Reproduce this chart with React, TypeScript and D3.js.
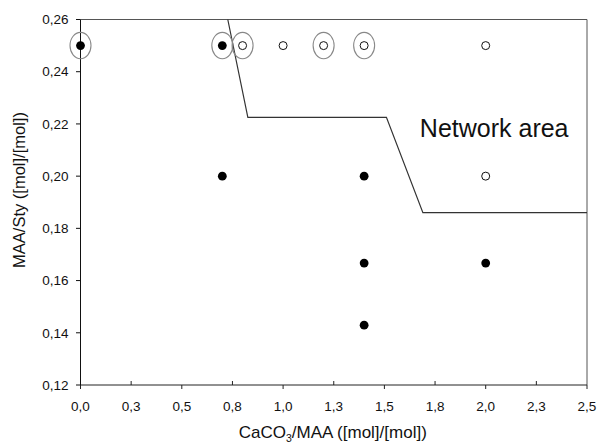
import { useEffect, useRef } from 'react';
import * as d3 from 'd3';

// ── data ────────────────────────────────────────────────────────────────
const filledX = [0.0, 0.7, 0.7, 1.4, 1.4, 1.4, 2.0];
const filledY = [0.25, 0.25, 0.2, 0.2, 0.1667, 0.1429, 0.1667];

const openX = [0.8, 1.0, 1.2, 1.4, 2.0, 2.0];
const openY = [0.25, 0.25, 0.25, 0.25, 0.25, 0.2];

// points highlighted with an outer ellipse
const ringX = [0.0, 0.7, 0.8, 1.2, 1.4];
const ringY = [0.25, 0.25, 0.25, 0.25, 0.25];

// boundary of the network area
const boundaryX = [0.727, 0.826, 1.51, 1.69, 2.5];
const boundaryY = [0.26, 0.2225, 0.2225, 0.186, 0.186];

const xTickValues = [0, 0.25, 0.5, 0.75, 1.0, 1.25, 1.5, 1.75, 2.0, 2.25, 2.5];
const xTickLabels = ['0,0', '0,3', '0,5', '0,8', '1,0', '1,3', '1,5', '1,8', '2,0', '2,3', '2,5'];
const yTickValues = [0.12, 0.14, 0.16, 0.18, 0.2, 0.22, 0.24, 0.26];
const yTickLabels = ['0,12', '0,14', '0,16', '0,18', '0,20', '0,22', '0,24', '0,26'];

const W = 598, H = 444;
const margin = { top: 19.5, right: 11, bottom: 59, left: 80.5 };
const FONT = 'Arial, "Liberation Sans", sans-serif';

export default function App() {
  const svgRef = useRef<SVGSVGElement | null>(null);

  useEffect(() => {
    if (!svgRef.current) return;
    const svg = d3.select(svgRef.current);
    svg.selectAll('*').remove();

    const innerW = W - margin.left - margin.right;
    const innerH = H - margin.top - margin.bottom;
    const x = d3.scaleLinear().domain([0, 2.5]).range([0, innerW]);
    const y = d3.scaleLinear().domain([0.12, 0.26]).range([innerH, 0]);

    const g = svg.append('g').attr('transform', `translate(${margin.left},${margin.top})`);

    // frame: top + right in gray
    g.append('path')
      .attr('d', `M0,0H${innerW}V${innerH}`)
      .attr('fill', 'none').attr('stroke', '#555').attr('stroke-width', 1);

    // x axis: labelled every 0.25, majors out, minors in
    const xa = g.append('g').attr('transform', `translate(0,${innerH})`);
    xa.append('line').attr('x1', 0).attr('x2', innerW).attr('stroke', '#222');
    xTickValues.forEach((v, i) => {
      const major = i % 2 === 0;
      xa.append('line')
        .attr('x1', x(v)).attr('x2', x(v))
        .attr('y1', 0).attr('y2', major ? 4 : -4)
        .attr('stroke', '#222');
      xa.append('text')
        .attr('x', x(v)).attr('y', 25.5)
        .attr('text-anchor', 'middle')
        .style('font-family', FONT).style('font-size', '13.5px').style('fill', '#111')
        .text(xTickLabels[i]);
    });

    // y axis
    const ya = g.append('g');
    ya.append('line').attr('y1', 0).attr('y2', innerH).attr('stroke', '#111');
    yTickValues.forEach((v, i) => {
      ya.append('line')
        .attr('x1', -4.5).attr('x2', 0)
        .attr('y1', y(v)).attr('y2', y(v))
        .attr('stroke', '#111');
      ya.append('text')
        .attr('x', -12).attr('y', y(v)).attr('dy', '0.35em')
        .attr('text-anchor', 'end')
        .style('font-family', FONT).style('font-size', '13.5px').style('fill', '#111')
        .text(yTickLabels[i]);
    });

    // axis titles
    const xt = svg.append('text')
      .attr('x', margin.left + innerW / 2 - 1).attr('y', 438)
      .attr('text-anchor', 'middle')
      .style('font-family', FONT).style('font-size', '17px').style('fill', '#111');
    xt.append('tspan').text('CaCO');
    xt.append('tspan').attr('dy', 4).style('font-size', '10.5px').text('3');
    xt.append('tspan').attr('dy', -4).text('/MAA ([mol]/[mol])');

    svg.append('text')
      .attr('transform', 'translate(25,190) rotate(-90)')
      .attr('text-anchor', 'middle')
      .style('font-family', FONT).style('font-size', '16.5px').style('fill', '#111')
      .text('MAA/Sty ([mol]/[mol])');

    // network boundary
    const line = d3.line<number>().x(i => x(boundaryX[i])).y(i => y(boundaryY[i]));
    g.append('path')
      .attr('d', line(d3.range(boundaryX.length)))
      .attr('fill', 'none').attr('stroke', '#333').attr('stroke-width', 1.2);

    g.append('text')
      .attr('x', x(1.675)).attr('y', y(0.215))
      .style('font-family', FONT).style('font-size', '25px').style('fill', '#111')
      .text('Network area');

    // outer rings
    g.selectAll('ellipse.ring').data(d3.range(ringX.length)).enter().append('ellipse')
      .attr('cx', i => x(ringX[i])).attr('cy', i => y(ringY[i]))
      .attr('rx', 10.5).attr('ry', 13.2)
      .attr('fill', 'none').attr('stroke', '#888').attr('stroke-width', 1.1);

    // open points
    g.selectAll('circle.open').data(d3.range(openX.length)).enter().append('circle')
      .attr('cx', i => x(openX[i])).attr('cy', i => y(openY[i]))
      .attr('r', 4).attr('fill', '#fff').attr('stroke', '#111').attr('stroke-width', 1);

    // filled points
    g.selectAll('circle.filled').data(d3.range(filledX.length)).enter().append('circle')
      .attr('cx', i => x(filledX[i])).attr('cy', i => y(filledY[i]))
      .attr('r', 4.4).attr('fill', '#000');
  }, []);

  return (
    <div style={{ position: 'fixed', left: 0, top: 0, width: W, height: H, background: '#fff' }}>
      <svg ref={svgRef} width={W} height={H} style={{ display: 'block' }} />
    </div>
  );
}
